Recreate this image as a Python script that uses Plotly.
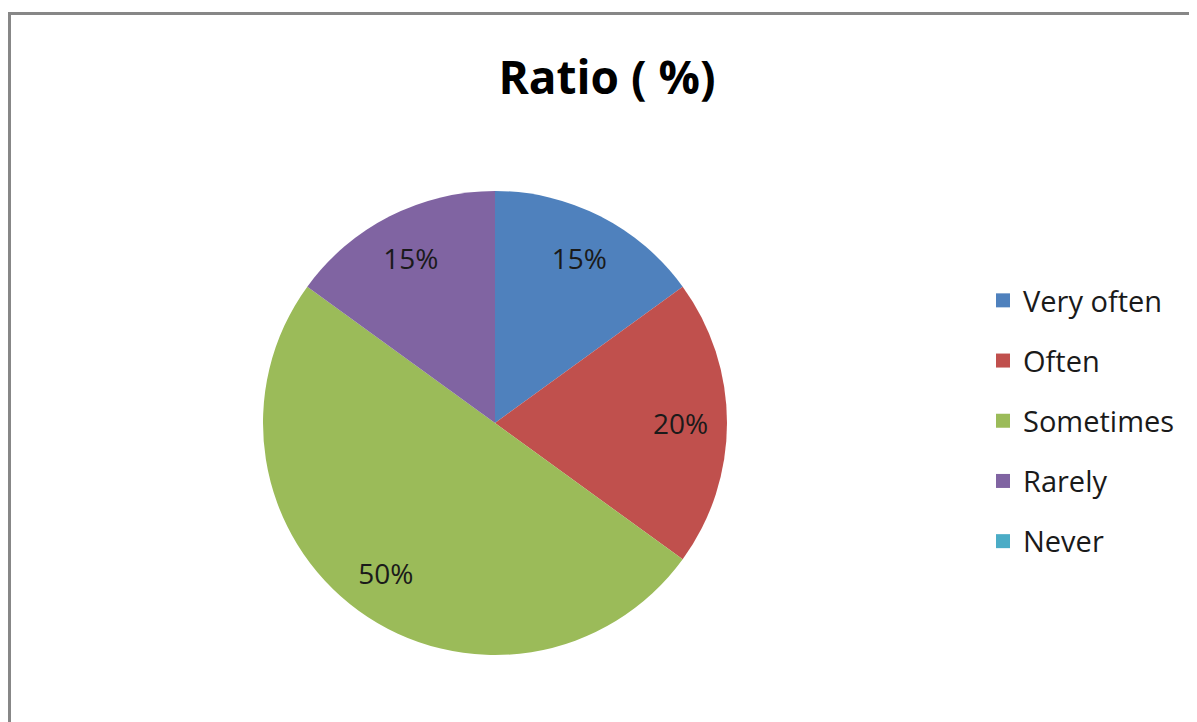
import plotly.graph_objects as go

labels = ["Very often", "Often", "Sometimes", "Rarely", "Never"]
values = [15, 20, 50, 15, 0]
colors = ["#4F81BD", "#C0504D", "#9BBB59", "#8064A2", "#4BACC6"]
title_text = "Ratio ( %)"

W, H = 1197, 722
OX, OY = 8, 8          # page body margin around the figure
FONT = "Open Sans"


def px(x):
    return (x - OX) / W


def py(y):
    return 1 - (y - OY) / H


slice_text = [f"{v}%" if v > 0 else "" for v in values]
pie_domain = dict(x=[px(262), px(728)], y=[py(655), py(191)])

fig = go.Figure()
# coloured slices
fig.add_trace(go.Pie(
    labels=labels,
    values=values,
    marker=dict(colors=colors, line=dict(width=0)),
    sort=False,
    direction="clockwise",
    rotation=0,
    textinfo="none",
    showlegend=False,
    domain=pie_domain,
    hoverinfo="label+percent",
))
# percentage labels, placed in the outer ring like the original
fig.add_trace(go.Pie(
    labels=labels,
    values=values,
    marker=dict(colors=["rgba(0,0,0,0)"] * len(labels), line=dict(width=0)),
    sort=False,
    direction="clockwise",
    rotation=0,
    hole=0.6,
    text=slice_text,
    textinfo="text",
    textposition="inside",
    insidetextorientation="horizontal",
    textfont=dict(family=FONT, size=28, color="#1a1a1a"),
    showlegend=False,
    domain=pie_domain,
    hoverinfo="skip",
))

# legend entries (one group per label so they can be spaced like the original)
for lab, col in zip(labels, colors):
    fig.add_trace(go.Scatter(
        x=[None], y=[None], mode="markers", name=lab,
        marker=dict(symbol="square", size=14, color=col),
        legendgroup=lab, showlegend=True, hoverinfo="skip",
    ))

fig.update_layout(
    width=W, height=H,
    margin=dict(l=0, r=0, t=0, b=0),
    paper_bgcolor="white", plot_bgcolor="white",
    xaxis=dict(visible=False), yaxis=dict(visible=False),
    title=dict(text=f"<b>{title_text}</b>", x=px(607), xanchor="center",
               y=py(78), yanchor="middle",
               font=dict(family=FONT, size=46, color="#000000")),
    legend=dict(x=px(983), xanchor="left", y=py(275), yanchor="top",
                font=dict(family=FONT, size=29, color="#1a1a1a"),
                tracegroupgap=19.5, itemsizing="trace",
                bgcolor="rgba(0,0,0,0)"),
    shapes=[dict(type="path", xref="paper", yref="paper",
                 path=f"M {px(9.5)},-0.05 L {px(9.5)},{py(13.5)} L 1.05,{py(13.5)}",
                 line=dict(color="#878787", width=3))],
)

fig.write_html("out.html")
